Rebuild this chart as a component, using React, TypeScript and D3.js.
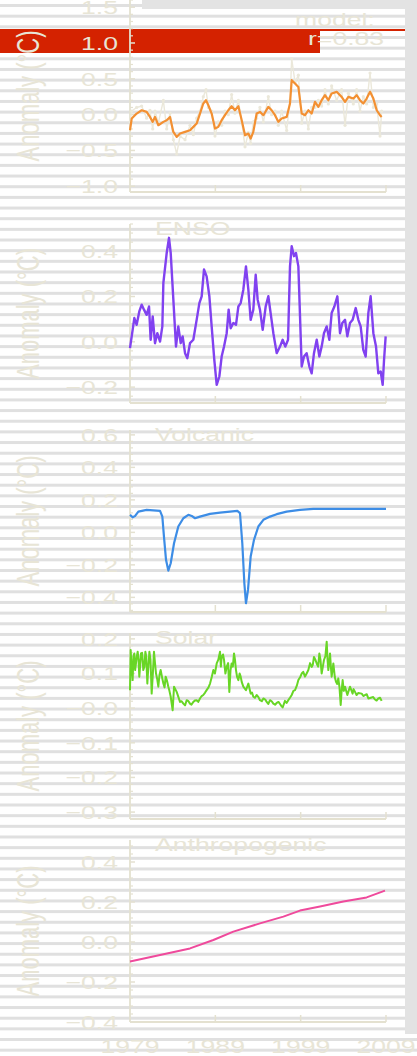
import React from "react";
import * as d3 from "d3";

// ---- data ----------------------------------------------------------------
const yearTicks = [1979, 1989, 1999, 2009];
const yearTickLabels = ["1979", "1989", "1999", "2009"];

// regression model (orange) and observed anomaly (pale), °C
const modelSeries: [number, number][] = [
  [1979.0, -0.218], [1979.2, -0.055], [1979.78, 0.015], [1980.37, 0.061], [1980.95, 0.038],
  [1981.34, -0.032], [1981.66, -0.101], [1981.93, -0.032], [1982.32, -0.148], [1982.91, -0.101],
  [1983.3, -0.078], [1983.69, -0.032], [1984.08, -0.241], [1984.47, -0.311], [1984.86, -0.264],
  [1985.45, -0.241], [1986.03, -0.218], [1986.42, -0.171], [1986.81, -0.125], [1987.2, 0.015],
  [1987.59, 0.155], [1987.91, 0.201], [1988.18, 0.131], [1988.57, 0.015], [1988.96, -0.195],
  [1989.35, -0.171], [1989.74, -0.078], [1990.13, -0.008], [1990.52, 0.061], [1990.91, 0.117],
  [1991.3, 0.061], [1991.7, 0.117], [1992.09, -0.078], [1992.48, -0.288], [1992.87, -0.264],
  [1993.14, -0.334], [1993.45, -0.241], [1993.84, 0.015], [1994.23, 0.038], [1994.63, -0.008],
  [1995.21, 0.108], [1995.6, 0.061], [1995.99, -0.008], [1996.38, -0.101], [1996.77, -0.055],
  [1997.36, -0.032], [1997.75, 0.155], [1997.95, 0.481], [1998.34, 0.434], [1998.73, 0.387],
  [1999.12, 0.015], [1999.51, -0.008], [1999.9, 0.061], [2000.29, 0.015], [2000.68, 0.178],
  [2001.07, 0.108], [2001.46, 0.201], [2001.85, 0.271], [2002.24, 0.201], [2002.63, 0.294],
  [2003.22, 0.318], [2003.8, 0.248], [2004.2, 0.178], [2004.59, 0.248], [2005.17, 0.224],
  [2005.56, 0.271], [2005.95, 0.201], [2006.34, 0.155], [2006.73, 0.224], [2007.13, 0.318],
  [2007.52, 0.224], [2007.91, 0.061], [2008.3, -0.008], [2008.49, -0.032],
];

const observedSeries: [number, number][] = [
  [1979.0, -0.1], [1979.2, 0.05], [1979.78, 0.1], [1980.37, 0.12], [1980.95, -0.05],
  [1981.34, 0.06], [1981.66, -0.2], [1981.93, 0.05], [1982.32, -0.12], [1982.91, 0.2],
  [1983.3, -0.2], [1983.69, 0.02], [1984.08, -0.35], [1984.47, -0.55], [1984.86, -0.3],
  [1985.45, -0.35], [1986.03, -0.15], [1986.42, -0.28], [1986.81, -0.05], [1987.2, 0.05],
  [1987.59, 0.25], [1987.91, 0.35], [1988.18, 0.1], [1988.57, 0.05], [1988.96, -0.3],
  [1989.35, -0.1], [1989.74, -0.15], [1990.13, 0.05], [1990.52, 0.0], [1990.91, 0.28],
  [1991.3, 0.02], [1991.7, 0.2], [1992.09, -0.1], [1992.48, -0.45], [1992.87, -0.25],
  [1993.14, -0.4], [1993.45, -0.1], [1993.84, -0.05], [1994.23, 0.1], [1994.63, -0.1],
  [1995.21, 0.25], [1995.6, 0.0], [1995.99, 0.05], [1996.38, -0.15], [1996.77, 0.05],
  [1997.36, -0.22], [1997.75, 0.2], [1997.95, 0.78], [1998.34, 0.45], [1998.73, 0.55],
  [1999.12, -0.12], [1999.51, 0.05], [1999.9, -0.2], [2000.29, 0.1], [2000.68, 0.1],
  [2001.07, 0.2], [2001.46, 0.12], [2001.85, 0.35], [2002.24, 0.15], [2002.63, 0.4],
  [2003.22, 0.2], [2003.8, 0.35], [2004.2, -0.15], [2004.59, 0.3], [2005.17, 0.15],
  [2005.56, 0.35], [2005.95, 0.05], [2006.34, 0.25], [2006.73, 0.15], [2007.13, 0.58],
  [2007.52, 0.1], [2007.91, 0.15], [2008.3, -0.3], [2008.49, 0.05],
];

const ensoSeries: [number, number][] = [
  [1979.0, -0.028], [1979.31, 0.053], [1979.51, 0.105], [1979.78, 0.075], [1980.09, 0.134],
  [1980.37, 0.164], [1980.64, 0.142], [1980.95, 0.119], [1981.23, 0.156], [1981.42, 0.009],
  [1981.66, 0.112], [1981.93, -0.006], [1982.2, 0.038], [1982.52, 0.001], [1982.79, 0.068],
  [1982.91, 0.26], [1983.3, 0.392], [1983.57, 0.459], [1983.77, 0.392], [1984.08, 0.186],
  [1984.39, -0.021], [1984.66, 0.068], [1984.94, -0.006], [1985.17, 0.024], [1985.45, -0.05],
  [1985.72, -0.072], [1986.03, -0.006], [1986.42, 0.009], [1986.81, 0.097], [1987.13, 0.171],
  [1987.4, 0.201], [1987.67, 0.319], [1987.98, 0.289], [1988.3, 0.201], [1988.57, 0.068],
  [1988.88, -0.08], [1989.16, -0.19], [1989.47, -0.153], [1989.74, -0.065], [1990.02, -0.021],
  [1990.33, 0.038], [1990.56, 0.142], [1990.8, 0.06], [1991.11, 0.083], [1991.42, 0.075],
  [1991.7, 0.156], [1991.97, 0.171], [1992.28, 0.23], [1992.59, 0.333], [1992.87, 0.23],
  [1993.14, 0.097], [1993.45, 0.142], [1993.73, 0.296], [1993.96, 0.186], [1994.23, 0.142],
  [1994.55, 0.053], [1994.9, 0.156], [1995.21, 0.201], [1995.48, 0.127], [1995.8, 0.038],
  [1996.19, -0.05], [1996.58, -0.021], [1996.89, 0.009], [1997.2, -0.021], [1997.52, 0.009],
  [1997.75, 0.333], [1997.95, 0.422], [1998.22, 0.378], [1998.45, 0.392], [1998.73, 0.333],
  [1999.12, -0.109], [1999.39, -0.065], [1999.7, -0.05], [2000.02, -0.109], [2000.29, -0.139],
  [2000.56, -0.05], [2000.88, 0.009], [2001.19, -0.065], [2001.46, -0.021], [2001.73, 0.038],
  [2002.05, 0.068], [2002.36, 0.009], [2002.63, 0.127], [2002.95, 0.156], [2003.3, 0.201],
  [2003.61, 0.038], [2003.88, 0.083], [2004.2, 0.097], [2004.47, 0.024], [2004.78, 0.083],
  [2005.09, 0.097], [2005.45, 0.149], [2005.76, 0.097], [2006.03, 0.068], [2006.34, -0.035],
  [2006.62, -0.065], [2006.93, 0.127], [2007.2, 0.201], [2007.52, 0.038], [2007.83, -0.021],
  [2008.1, -0.139], [2008.38, -0.131], [2008.61, -0.19], [2008.77, -0.08], [2008.96, 0.024],
];

const volcanicSeries: [number, number][] = [
  [1979.0, 0.108], [1979.31, 0.093], [1979.58, 0.1], [1979.98, 0.128], [1980.95, 0.138],
  [1982.52, 0.132], [1982.79, 0.097], [1982.98, -0.026], [1983.22, -0.169], [1983.49, -0.235],
  [1983.77, -0.19], [1984.16, -0.067], [1984.66, 0.036], [1985.25, 0.087], [1985.84, 0.108],
  [1986.23, 0.101], [1986.62, 0.087], [1987.2, 0.097], [1988.38, 0.114], [1989.55, 0.122],
  [1990.72, 0.128], [1991.58, 0.132], [1991.89, 0.118], [1992.16, -0.067], [1992.4, -0.313],
  [1992.59, -0.436], [1992.83, -0.354], [1993.14, -0.149], [1993.53, -0.046], [1994.04, 0.036],
  [1994.63, 0.077], [1995.41, 0.097], [1996.19, 0.112], [1997.36, 0.128], [1998.92, 0.138],
  [2000.48, 0.145], [2002.83, 0.145], [2009.0, 0.145],
];

const solarSeries: [number, number][] = [
  [1979.0, 0.052], [1979.08, 0.168], [1979.18, 0.12], [1979.31, 0.081], [1979.4, 0.15],
  [1979.51, 0.158], [1979.6, 0.11], [1979.7, 0.129], [1979.8, 0.15], [1979.9, 0.163],
  [1980.0, 0.14], [1980.09, 0.091], [1980.18, 0.12], [1980.29, 0.158], [1980.42, 0.16],
  [1980.56, 0.11], [1980.68, 0.12], [1980.8, 0.163], [1980.9, 0.15], [1981.03, 0.071],
  [1981.15, 0.12], [1981.27, 0.163], [1981.4, 0.14], [1981.54, 0.042], [1981.68, 0.1],
  [1981.81, 0.163], [1981.93, 0.13], [1982.05, 0.1], [1982.18, 0.085], [1982.32, 0.062],
  [1982.45, 0.095], [1982.59, 0.11], [1982.75, 0.09], [1982.91, 0.071], [1983.05, 0.06],
  [1983.18, 0.091], [1983.33, 0.08], [1983.49, 0.062], [1983.62, 0.05], [1983.77, 0.033],
  [1984.0, -0.006], [1984.16, 0.062], [1984.47, 0.047], [1984.86, 0.018], [1985.05, 0.02],
  [1985.25, 0.013], [1985.45, 0.008], [1985.64, 0.023], [1985.85, 0.02], [1986.03, 0.013],
  [1986.2, 0.01], [1986.42, 0.018], [1986.6, 0.022], [1986.81, 0.023], [1987.0, 0.018],
  [1987.2, 0.028], [1987.4, 0.035], [1987.59, 0.038], [1987.8, 0.045], [1987.98, 0.052],
  [1988.2, 0.06], [1988.38, 0.071], [1988.58, 0.09], [1988.77, 0.11], [1988.95, 0.1],
  [1989.16, 0.129], [1989.35, 0.14], [1989.55, 0.163], [1989.65, 0.12], [1989.74, 0.148],
  [1989.9, 0.155], [1990.02, 0.139], [1990.18, 0.1], [1990.33, 0.119], [1990.5, 0.13],
  [1990.64, 0.047], [1990.78, 0.11], [1990.91, 0.129], [1991.05, 0.12], [1991.19, 0.158],
  [1991.3, 0.14], [1991.42, 0.11], [1991.55, 0.09], [1991.7, 0.081], [1991.85, 0.1],
  [1991.97, 0.091], [1992.1, 0.075], [1992.28, 0.062], [1992.59, 0.052], [1992.87, 0.071],
  [1993.14, 0.042], [1993.3, 0.045], [1993.45, 0.033], [1993.65, 0.03], [1993.84, 0.038],
  [1994.05, 0.032], [1994.23, 0.023], [1994.45, 0.02], [1994.63, 0.028], [1994.85, 0.025],
  [1995.02, 0.018], [1995.2, 0.012], [1995.41, 0.023], [1995.6, 0.02], [1995.8, 0.013],
  [1996.0, 0.01], [1996.19, 0.015], [1996.4, 0.018], [1996.58, 0.012], [1996.75, 0.006],
  [1996.89, 0.002], [1997.16, 0.021], [1997.35, 0.015], [1997.55, 0.023], [1997.75, 0.03],
  [1997.95, 0.038], [1998.15, 0.05], [1998.34, 0.052], [1998.55, 0.065], [1998.73, 0.081],
  [1998.95, 0.09], [1999.12, 0.1], [1999.3, 0.105], [1999.51, 0.091], [1999.7, 0.1],
  [1999.9, 0.11], [2000.1, 0.13], [2000.29, 0.119], [2000.42, 0.125], [2000.56, 0.148],
  [2000.72, 0.14], [2000.88, 0.129], [2001.05, 0.12], [2001.19, 0.158], [2001.32, 0.14],
  [2001.46, 0.1], [2001.6, 0.12], [2001.73, 0.139], [2001.9, 0.15], [2002.05, 0.192],
  [2002.15, 0.14], [2002.24, 0.11], [2002.34, 0.13], [2002.44, 0.158], [2002.54, 0.12],
  [2002.63, 0.091], [2002.73, 0.11], [2002.83, 0.129], [2003.0, 0.09], [2003.14, 0.076],
  [2003.28, 0.07], [2003.41, 0.086], [2003.55, 0.06], [2003.69, 0.009], [2003.8, 0.05],
  [2003.92, 0.081], [2004.05, 0.05], [2004.2, 0.062], [2004.47, 0.038], [2004.62, 0.05],
  [2004.78, 0.062], [2005.09, 0.042], [2005.2, 0.055], [2005.37, 0.047], [2005.55, 0.038],
  [2005.76, 0.044], [2006.15, 0.042], [2006.35, 0.035], [2006.54, 0.038], [2006.75, 0.04],
  [2006.93, 0.028], [2007.32, 0.031], [2007.5, 0.032], [2007.71, 0.025], [2007.9, 0.022],
  [2008.1, 0.028], [2008.3, 0.03], [2008.49, 0.021],
];

const anthropogenicSeries: [number, number][] = [
  [1979.0, -0.098], [1982.52, -0.065], [1986.03, -0.032], [1988.77, 0.01], [1991.11, 0.052],
  [1994.23, 0.093], [1996.97, 0.127], [1998.92, 0.157], [2001.27, 0.177], [2004.0, 0.202],
  [2006.73, 0.223], [2008.88, 0.257],
];

const modelTicks = [-1.0, -0.5, 0.0, 0.5, 1.0, 1.5];
const modelTickLabels = ["\u22121.0", "\u22120.5", "0.0", "0.5", "1.0", "1.5"];
const ensoTicks = [-0.2, 0.0, 0.2, 0.4];
const ensoTickLabels = ["\u22120.2", "0.0", "0.2", "0.4"];
const volcanicTicks = [-0.4, -0.2, 0.0, 0.2, 0.4, 0.6];
const volcanicTickLabels = ["\u22120.4", "\u22120.2", "0.0", "0.2", "0.4", "0.6"];
const solarTicks = [-0.3, -0.2, -0.1, 0.0, 0.1, 0.2];
const solarTickLabels = ["\u22120.3", "\u22120.2", "\u22120.1", "\u22120.0", "0.1", "0.2"];
const anthroTicks = [-0.4, -0.2, 0.0, 0.2, 0.4];
const anthroTickLabels = ["\u22120.4", "\u22120.2", "0.0", "0.2", "0.4"];

// ---- styling -------------------------------------------------------------
const W = 417;
const H = 1056;
const INK = "#e8e5d6";
const AXIS = "#e4e1d0";
const FONT = "'Liberation Sans', Arial, Helvetica, sans-serif";
const STRETCH = 1.4;

const x = d3.scaleLinear().domain([1979, 2009]).range([130, 386]);

type Series = { data: [number, number][]; color: string; width: number; dots?: boolean };
type PanelSpec = {
  title?: string;
  top: number;
  bottom: number;
  domain: [number, number];
  ticks: number[];
  labels: string[];
  series: Series[];
  xLabels?: boolean;
};

const panels: PanelSpec[] = [
  {
    top: 0, bottom: 192, domain: [-1.08, 1.6],
    ticks: modelTicks, labels: modelTickLabels,
    series: [
      { data: observedSeries, color: "#ebe8da", width: 1.4, dots: true },
      { data: modelSeries, color: "#f39032", width: 2.2 },
    ],
  },
  {
    title: "ENSO", top: 224, bottom: 403, domain: [-0.27, 0.52],
    ticks: ensoTicks, labels: ensoTickLabels,
    series: [{ data: ensoSeries, color: "#8142f0", width: 2.4 }],
  },
  {
    title: "Volcanic", top: 430, bottom: 612, domain: [-0.49, 0.63],
    ticks: volcanicTicks, labels: volcanicTickLabels,
    series: [{ data: volcanicSeries, color: "#3d8de6", width: 2.2 }],
  },
  {
    title: "Solar", top: 633, bottom: 819, domain: [-0.32, 0.217],
    ticks: solarTicks, labels: solarTickLabels,
    series: [{ data: solarSeries, color: "#68d626", width: 2 }],
  },
  {
    title: "Anthropogenic", top: 840, bottom: 1022, domain: [-0.4, 0.51],
    ticks: anthroTicks, labels: anthroTickLabels,
    series: [{ data: anthropogenicSeries, color: "#ef4a9c", width: 2 }],
    xLabels: true,
  },
];

function Label(props: {
  x: number; y: number; size: number; anchor?: string; rotate?: boolean;
  children: React.ReactNode; dy?: string; fill?: string;
}) {
  const { x: tx, y: ty, size, anchor = "start", rotate, children, dy, fill = INK } = props;
  const transform = `translate(${tx},${ty}) scale(${STRETCH},1)${rotate ? " rotate(-90)" : ""}`;
  return (
    <text transform={transform} textAnchor={anchor} fontSize={size} fontFamily={FONT} fill={fill} dy={dy}>
      {children}
    </text>
  );
}

function Panel({ p }: { p: PanelSpec }) {
  const y = d3.scaleLinear().domain(p.domain).range([p.bottom, p.top]);
  const line = d3.line<[number, number]>().x((d) => x(d[0])).y((d) => y(d[1]));
  const step = p.ticks[1] - p.ticks[0];
  const sub = step / 5;
  const minor = d3
    .range(Math.ceil(p.domain[0] / sub - 1e-6), Math.floor(p.domain[1] / sub + 1e-6) + 1)
    .map((k) => k * sub)
    .filter((v) => !p.ticks.some((t) => Math.abs(t - v) < sub / 2));
  const x0 = x(1979);
  const x1 = x(2009);
  const mid = (p.top + p.bottom) / 2;
  return (
    <g>
      {/* y axis */}
      <line x1={x0} x2={x0} y1={p.top} y2={p.bottom} stroke={AXIS} strokeWidth={1.8} />
      {p.ticks.map((t, i) => (
        <g key={`t${i}`}>
          <line x1={x0} x2={x0 + 5} y1={y(t)} y2={y(t)} stroke={AXIS} strokeWidth={1.5} />
          <Label x={118} y={y(t)} size={19} anchor="end" dy="0.36em">{p.labels[i]}</Label>
        </g>
      ))}
      {minor.map((v, i) => (
        <line key={`m${i}`} x1={x0} x2={x0 + 3} y1={y(v)} y2={y(v)} stroke={AXIS} strokeWidth={1.2} />
      ))}
      {/* x axis */}
      <line x1={x0} x2={x1} y1={p.bottom} y2={p.bottom} stroke={AXIS} strokeWidth={1.8} />
      {yearTicks.slice(1).map((t) => (
        <line key={`x${t}`} x1={x(t)} x2={x(t)} y1={p.bottom} y2={p.bottom - 7} stroke={AXIS} strokeWidth={1.5} />
      ))}
      {p.xLabels &&
        yearTicks.map((t, i) => (
          <Label key={`xl${t}`} x={x(t)} y={1053} size={19} anchor="middle">{yearTickLabels[i]}</Label>
        ))}
      {/* axis title */}
      <Label x={39} y={mid} size={22} anchor="middle" rotate>Anomaly (°C)</Label>
      {p.title && <Label x={155} y={p.top + 11} size={19}>{p.title}</Label>}
      {/* data */}
      {p.series.map((s, i) => (
        <g key={`s${i}`}>
          <path d={line(s.data) ?? ""} fill="none" stroke={s.color} strokeWidth={s.width} strokeLinejoin="round" />
          {s.dots &&
            s.data.map((d, j) => <circle key={j} cx={x(d[0])} cy={y(d[1])} r={1.6} fill={s.color} />)}
        </g>
      ))}
    </g>
  );
}

export default function App() {
  const stripes = d3.range(0, 100).map((k) => 4 + k * 10.66);
  return (
    <svg width={W} height={H} style={{ position: "absolute", left: 0, top: 0, display: "block" }}>
      <rect x={0} y={0} width={W} height={H} fill="#ffffff" />
      {stripes.map((s, i) => (
        <rect key={i} x={0} y={s} width={W} height={3} fill="#e0e0e0" />
      ))}
      <rect x={142} y={0} width={W - 142} height={9} fill="#e3e3e3" />
      <rect x={405} y={0} width={W - 405} height={1034} fill="#e3e3e3" />
      <rect x={0} y={29} width={320} height={24} fill="#d42200" />
      <rect x={320} y={29} width={85} height={2} fill="#d42200" />
      {panels.map((p, i) => (
        <Panel key={i} p={p} />
      ))}
      <Label x={295} y={26} size={19}>model:</Label>
      <Label x={308} y={45} size={19}>r=0.83</Label>
    </svg>
  );
}
